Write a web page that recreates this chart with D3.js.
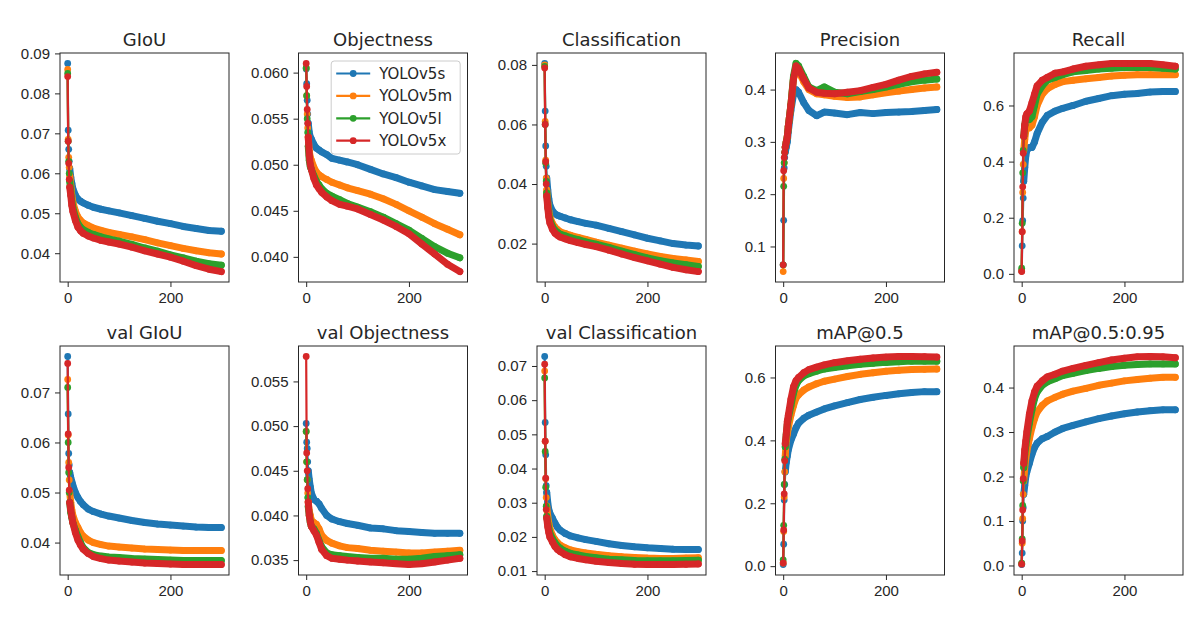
<!DOCTYPE html>
<html>
<head>
<meta charset="utf-8">
<script src="https://cdn.jsdelivr.net/npm/d3@7"></script>
<style>
body { margin: 0; background: #fff; }
svg { font-family: "DejaVu Sans", sans-serif; }
.axis text { font-size: 15px; fill: #262626; }
.axis line { stroke: #262626; }
.title { font-size: 18px; fill: #262626; text-anchor: middle; }
.legend text { font-size: 15px; fill: #262626; }
</style>
</head>
<body>
<svg id="chart" width="1200" height="630"></svg>
<script>
epochs = [0,1,2,3,4,6,8,10,15,20,25,30,40,50,65,80,100,125,150,175,200,225,250,275,299];
models = ['YOLOv5s', 'YOLOv5m', 'YOLOv5l', 'YOLOv5x'];
colors = ['#1f77b4', '#ff7f0e', '#2ca02c', '#d62728'];
titles = ['GIoU', 'Objectness', 'Classification', 'Precision', 'Recall',
          'val GIoU', 'val Objectness', 'val Classification', 'mAP@0.5', 'mAP@0.5:0.95'];

// each panel: one row per model, in the order s, m, l, x
giou = [
  [0.0875,0.0708,0.066,0.063,0.0612,0.059,0.0575,0.0562,0.0545,0.0535,0.0530,0.0526,0.0520,0.0515,0.0510,0.0506,0.0501,0.0494,0.0487,0.0480,0.0474,0.0467,0.0462,0.0457,0.0455],
  [0.086,0.0685,0.064,0.0615,0.0595,0.057,0.0545,0.0528,0.0505,0.0490,0.0482,0.0476,0.0469,0.0463,0.0457,0.0452,0.0447,0.0441,0.0434,0.0426,0.0419,0.0412,0.0406,0.0401,0.0398],
  [0.085,0.068,0.063,0.060,0.058,0.0555,0.053,0.0515,0.0490,0.0474,0.0465,0.0459,0.0452,0.0447,0.0441,0.0436,0.0430,0.0422,0.0413,0.0405,0.0396,0.0388,0.0380,0.0374,0.0370],
  [0.0842,0.068,0.0625,0.0585,0.0565,0.0545,0.052,0.0505,0.0482,0.0465,0.0456,0.0450,0.0443,0.0438,0.0432,0.0428,0.0423,0.0415,0.0406,0.0398,0.0390,0.0380,0.0369,0.0360,0.0354]
];
objectness = [
  [0.0604,0.0588,0.057,0.0555,0.0545,0.0535,0.0530,0.0528,0.0522,0.0518,0.0516,0.0514,0.0511,0.0507,0.0505,0.0503,0.0500,0.0495,0.0490,0.0486,0.0481,0.0477,0.0473,0.0471,0.0469],
  [0.0605,0.0575,0.0555,0.054,0.053,0.0515,0.0508,0.0505,0.0497,0.0492,0.0489,0.0487,0.0484,0.0481,0.0478,0.0475,0.0472,0.0468,0.0463,0.0457,0.0450,0.0443,0.0436,0.0430,0.0424],
  [0.0605,0.0575,0.055,0.0535,0.052,0.0505,0.0498,0.0495,0.0488,0.0482,0.0478,0.0474,0.0469,0.0466,0.0462,0.0458,0.0454,0.0449,0.0443,0.0436,0.0429,0.0420,0.0411,0.0404,0.0399],
  [0.0610,0.0585,0.056,0.0545,0.053,0.051,0.0500,0.0495,0.0485,0.0478,0.0474,0.0470,0.0465,0.0461,0.0457,0.0455,0.0452,0.0446,0.0440,0.0433,0.0425,0.0414,0.0403,0.0392,0.0384]
];
classification = [
  [0.0805,0.0645,0.0528,0.046,0.042,0.038,0.035,0.033,0.0310,0.0300,0.0295,0.0292,0.0286,0.0280,0.0274,0.0268,0.0262,0.0251,0.0240,0.0229,0.0218,0.0209,0.0200,0.0195,0.0192],
  [0.080,0.061,0.048,0.042,0.038,0.034,0.031,0.029,0.0268,0.0255,0.0247,0.0240,0.0234,0.0228,0.0221,0.0214,0.0205,0.0195,0.0185,0.0175,0.0165,0.0157,0.0150,0.0145,0.0140],
  [0.0795,0.060,0.047,0.041,0.037,0.033,0.030,0.028,0.0258,0.0245,0.0238,0.0232,0.0226,0.0220,0.0213,0.0206,0.0198,0.0187,0.0175,0.0163,0.0152,0.0143,0.0135,0.0129,0.0123],
  [0.0790,0.060,0.0475,0.040,0.036,0.032,0.029,0.027,0.0248,0.0235,0.0228,0.0222,0.0216,0.0210,0.0203,0.0197,0.0190,0.0178,0.0165,0.0153,0.0142,0.0131,0.0120,0.0112,0.0106]
];
precision = [
  [0.065,0.15,0.25,0.27,0.28,0.29,0.30,0.32,0.36,0.39,0.40,0.395,0.375,0.360,0.350,0.357,0.355,0.352,0.356,0.354,0.356,0.357,0.358,0.360,0.362],
  [0.052,0.23,0.26,0.28,0.29,0.30,0.31,0.33,0.37,0.42,0.44,0.435,0.415,0.400,0.392,0.390,0.387,0.385,0.386,0.390,0.394,0.397,0.400,0.403,0.405],
  [0.065,0.215,0.26,0.28,0.29,0.30,0.31,0.33,0.37,0.425,0.45,0.445,0.425,0.405,0.398,0.405,0.395,0.392,0.396,0.400,0.405,0.410,0.415,0.418,0.420],
  [0.065,0.245,0.27,0.28,0.29,0.30,0.31,0.33,0.37,0.42,0.445,0.440,0.420,0.403,0.395,0.393,0.392,0.395,0.398,0.404,0.410,0.418,0.425,0.430,0.433]
];
recall = [
  [0.01,0.10,0.19,0.27,0.33,0.38,0.42,0.44,0.45,0.45,0.47,0.50,0.54,0.565,0.58,0.59,0.60,0.615,0.625,0.635,0.640,0.643,0.648,0.650,0.650],
  [0.01,0.15,0.29,0.39,0.44,0.48,0.51,0.52,0.52,0.53,0.56,0.60,0.64,0.66,0.675,0.685,0.690,0.695,0.700,0.705,0.708,0.710,0.710,0.710,0.710],
  [0.02,0.18,0.36,0.44,0.49,0.53,0.55,0.56,0.55,0.56,0.60,0.64,0.67,0.69,0.70,0.71,0.72,0.725,0.73,0.733,0.735,0.735,0.735,0.733,0.730],
  [0.008,0.15,0.31,0.43,0.49,0.53,0.56,0.57,0.58,0.61,0.64,0.67,0.69,0.70,0.715,0.72,0.73,0.74,0.745,0.75,0.75,0.75,0.75,0.745,0.740]
];
valGiou = [
  [0.0772,0.0657,0.0578,0.0555,0.0540,0.0530,0.0522,0.0515,0.0500,0.0490,0.0482,0.0476,0.0467,0.0462,0.0457,0.0453,0.0449,0.0444,0.0440,0.0437,0.0435,0.0433,0.0431,0.0430,0.0430],
  [0.0726,0.0615,0.056,0.0525,0.050,0.048,0.0465,0.0455,0.0440,0.0430,0.0420,0.0413,0.0405,0.0400,0.0396,0.0393,0.0391,0.0389,0.0387,0.0386,0.0385,0.0384,0.0384,0.0384,0.0384],
  [0.0710,0.060,0.054,0.050,0.048,0.046,0.045,0.044,0.0425,0.0412,0.0400,0.0390,0.0380,0.0376,0.0373,0.0371,0.0370,0.0368,0.0367,0.0366,0.0365,0.0364,0.0364,0.0364,0.0364],
  [0.0758,0.0617,0.055,0.0505,0.048,0.0465,0.0452,0.0440,0.0420,0.0405,0.0395,0.0387,0.0378,0.0372,0.0368,0.0365,0.0363,0.0361,0.0359,0.0358,0.0357,0.0356,0.0356,0.0356,0.0356]
];
valObjectness = [
  [0.0503,0.0482,0.0475,0.046,0.045,0.044,0.0432,0.0425,0.0418,0.0416,0.0413,0.0408,0.0400,0.0396,0.0393,0.0391,0.0389,0.0386,0.0385,0.0383,0.0382,0.0381,0.0380,0.0380,0.0380],
  [0.0494,0.046,0.044,0.0425,0.0415,0.0405,0.0400,0.0395,0.0392,0.0390,0.0385,0.0378,0.0372,0.0369,0.0366,0.0364,0.0363,0.0361,0.0360,0.0359,0.0358,0.0358,0.0359,0.0360,0.0361],
  [0.0494,0.046,0.044,0.042,0.041,0.040,0.0392,0.0388,0.0385,0.0380,0.0372,0.0365,0.0358,0.0356,0.0355,0.0354,0.0353,0.0352,0.0352,0.0351,0.0351,0.0352,0.0354,0.0355,0.0356],
  [0.0578,0.047,0.045,0.043,0.0415,0.040,0.0393,0.0388,0.0383,0.0378,0.0370,0.0362,0.0355,0.0352,0.0351,0.0350,0.0349,0.0348,0.0347,0.0346,0.0345,0.0346,0.0348,0.0350,0.0352]
];
valClassification = [
  [0.0728,0.0535,0.044,0.035,0.033,0.030,0.028,0.0270,0.0255,0.0240,0.0228,0.0220,0.0210,0.0203,0.0197,0.0192,0.0187,0.0180,0.0175,0.0171,0.0168,0.0166,0.0164,0.0163,0.0163],
  [0.0685,0.048,0.037,0.0315,0.029,0.026,0.024,0.0225,0.0205,0.0192,0.0183,0.0176,0.0168,0.0162,0.0157,0.0153,0.0149,0.0145,0.0142,0.0140,0.0138,0.0137,0.0137,0.0138,0.0139],
  [0.0665,0.045,0.0345,0.029,0.026,0.024,0.0225,0.0212,0.0195,0.0183,0.0174,0.0167,0.0158,0.0152,0.0147,0.0143,0.0139,0.0135,0.0133,0.0131,0.0130,0.0130,0.0130,0.0131,0.0132],
  [0.0705,0.048,0.0372,0.028,0.0255,0.023,0.0213,0.0200,0.0185,0.0172,0.0163,0.0157,0.0148,0.0142,0.0137,0.0133,0.0129,0.0125,0.0122,0.0120,0.0119,0.0119,0.0119,0.0120,0.0121]
];
map50 = [
  [0.005,0.07,0.21,0.26,0.30,0.33,0.35,0.37,0.40,0.42,0.44,0.455,0.47,0.48,0.49,0.50,0.51,0.52,0.53,0.537,0.543,0.548,0.552,0.555,0.555],
  [0.01,0.11,0.22,0.30,0.35,0.40,0.42,0.44,0.48,0.51,0.535,0.545,0.56,0.57,0.58,0.588,0.595,0.603,0.61,0.615,0.62,0.623,0.625,0.626,0.627],
  [0.02,0.13,0.26,0.34,0.38,0.42,0.45,0.47,0.51,0.55,0.575,0.59,0.605,0.612,0.62,0.627,0.632,0.637,0.642,0.645,0.648,0.65,0.652,0.652,0.652],
  [0.01,0.115,0.23,0.335,0.39,0.42,0.46,0.48,0.53,0.57,0.59,0.60,0.615,0.625,0.633,0.64,0.647,0.653,0.658,0.662,0.665,0.667,0.667,0.666,0.665]
];
map5095 = [
  [0.002,0.028,0.10,0.13,0.16,0.18,0.20,0.21,0.23,0.25,0.265,0.275,0.285,0.29,0.30,0.308,0.315,0.323,0.33,0.336,0.341,0.345,0.348,0.35,0.35],
  [0.004,0.05,0.105,0.16,0.19,0.22,0.24,0.255,0.285,0.31,0.33,0.345,0.36,0.37,0.378,0.385,0.392,0.398,0.405,0.41,0.415,0.418,0.421,0.423,0.423],
  [0.005,0.06,0.135,0.19,0.22,0.25,0.27,0.285,0.32,0.35,0.375,0.39,0.405,0.413,0.42,0.427,0.432,0.438,0.443,0.447,0.45,0.452,0.453,0.453,0.453],
  [0.003,0.055,0.125,0.195,0.23,0.26,0.28,0.30,0.34,0.37,0.39,0.403,0.415,0.424,0.43,0.437,0.443,0.45,0.456,0.462,0.466,0.469,0.47,0.469,0.467]
];

// y tick labels of each panel
yTicks = [
  [0.04,0.05,0.06,0.07,0.08,0.09],
  [0.040,0.045,0.050,0.055,0.060],
  [0.02,0.04,0.06,0.08],
  [0.1,0.2,0.3,0.4],
  [0.0,0.2,0.4,0.6],
  [0.04,0.05,0.06,0.07],
  [0.035,0.040,0.045,0.050,0.055],
  [0.01,0.02,0.03,0.04,0.05,0.06,0.07],
  [0.0,0.2,0.4,0.6],
  [0.0,0.1,0.2,0.3,0.4]
];
yFormats = ['.2f', '.3f', '.2f', '.1f', '.1f', '.2f', '.3f', '.2f', '.1f', '.1f'];
xTicks = [0, 200];

panels = [giou, objectness, classification, precision, recall,
          valGiou, valObjectness, valClassification, map50, map5095];

// layout of the 2 x 5 grid
axW = 169;
axH = 229;
colStep = 238.5;
left0 = 60;
tops = [53, 346];
bandFrom = 4;   // from here on the dense epoch markers merge into a band

svg = d3.select('#chart');

var xMax = d3.max(epochs);
var xScale = d3.scaleLinear()
    .domain([-0.05 * xMax, xMax * 1.05])
    .range([0, axW]);

panels.forEach(function(series, p) {
    var col = p % 5, row = Math.floor(p / 5);
    var g = svg.append('g')
        .attr('transform', 'translate(' + (left0 + col * colStep) + ',' + tops[row] + ')');

    // matplotlib style 5% margins
    var lo = d3.min(series, function(s) { return d3.min(s); });
    var hi = d3.max(series, function(s) { return d3.max(s); });
    var pad = (hi - lo) * 0.05;
    var yScale = d3.scaleLinear()
        .domain([lo - pad, hi + pad])
        .range([axH, 0]);

    var clip = 'clip' + p;
    g.append('clipPath').attr('id', clip)
        .append('rect').attr('width', axW).attr('height', axH);

    var plot = g.append('g').attr('clip-path', 'url(#' + clip + ')');

    var line = d3.line()
        .x(function(d) { return xScale(d[0]); })
        .y(function(d) { return yScale(d[1]); });

    series.forEach(function(vals, k) {
        var pts = vals.map(function(v, i) { return [epochs[i], v]; });
        var sg = plot.append('g');
        // thick band standing in for the overlapping markers
        sg.append('path')
            .attr('d', line(pts.slice(bandFrom)))
            .attr('fill', 'none')
            .attr('stroke', colors[k])
            .attr('stroke-width', 7)
            .attr('stroke-linejoin', 'round')
            .attr('stroke-linecap', 'round');
        sg.append('path')
            .attr('d', line(pts))
            .attr('fill', 'none')
            .attr('stroke', colors[k])
            .attr('stroke-width', 2.2)
            .attr('stroke-linejoin', 'round');
        sg.selectAll('circle').data(pts).enter()
            .append('circle')
            .attr('cx', function(d) { return xScale(d[0]); })
            .attr('cy', function(d) { return yScale(d[1]); })
            .attr('r', 3.4)
            .attr('fill', colors[k]);
    });

    // axes
    g.append('g').attr('class', 'axis')
        .call(d3.axisLeft(yScale).tickValues(yTicks[p]).tickFormat(d3.format(yFormats[p]))
            .tickSize(5).tickPadding(5))
        .call(function(a) { a.select('.domain').remove(); });
    g.append('g').attr('class', 'axis')
        .attr('transform', 'translate(0,' + axH + ')')
        .call(d3.axisBottom(xScale).tickValues(xTicks).tickFormat(d3.format('d'))
            .tickSize(5).tickPadding(5))
        .call(function(a) { a.select('.domain').remove(); });

    g.append('rect')
        .attr('width', axW).attr('height', axH)
        .attr('fill', 'none')
        .attr('stroke', '#262626')
        .attr('stroke-width', 1);

    g.append('text')
        .attr('class', 'title')
        .attr('x', axW / 2)
        .attr('y', -7)
        .text(titles[p]);

    // legend sits in the Objectness panel
    if (p === 1) {
        var lg = g.append('g').attr('class', 'legend')
            .attr('transform', 'translate(' + (axW - 7.3 - 129) + ',8)');
        lg.append('rect')
            .attr('width', 129).attr('height', 93)
            .attr('rx', 3)
            .attr('fill', '#fff').attr('fill-opacity', 0.8)
            .attr('stroke', '#cccccc');
        models.forEach(function(m, k) {
            var yy = 12.5 + k * 22.4;
            lg.append('line')
                .attr('x1', 5).attr('x2', 39)
                .attr('y1', yy).attr('y2', yy)
                .attr('stroke', colors[k]).attr('stroke-width', 2.2);
            lg.append('circle')
                .attr('cx', 22).attr('cy', yy).attr('r', 3.4)
                .attr('fill', colors[k]);
            lg.append('text')
                .attr('x', 48).attr('y', yy)
                .attr('dy', '0.36em')
                .text(m);
        });
    }
});
</script>
</body>
</html>
